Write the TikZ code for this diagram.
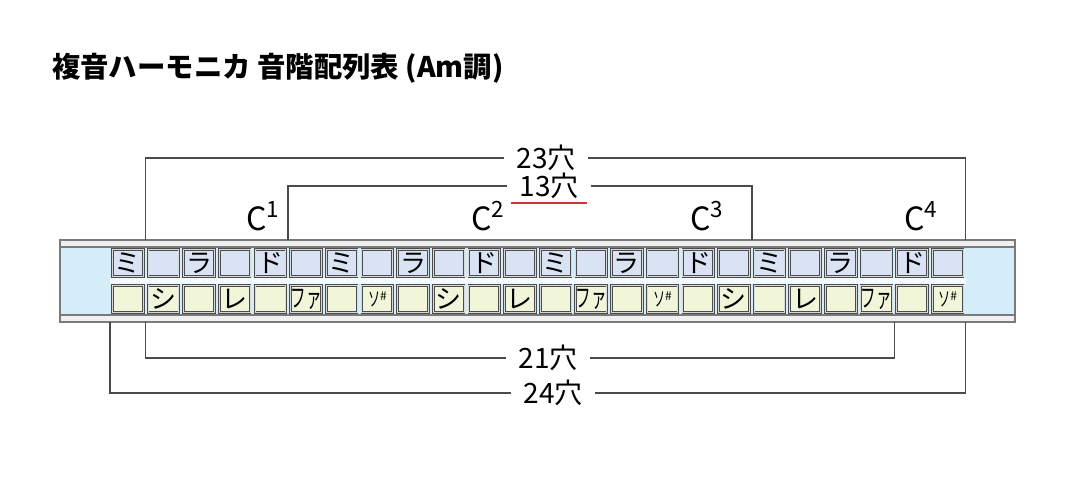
\documentclass[tikz,border=0pt]{standalone}
\usepackage{fontspec}
\setmainfont{Noto Sans CJK JP}
\usepackage{graphicx}
\usetikzlibrary{positioning}
\definecolor{bodyblue}{HTML}{D4EDF9}
\definecolor{topfill}{HTML}{D9E3F3}
\definecolor{botfill}{HTML}{F1F6DA}
\definecolor{rimgray}{HTML}{7A7A7A}
\definecolor{linegray}{HTML}{4A4A4A}
\definecolor{markred}{HTML}{C8383A}
\newcommand{\holefont}{\fontsize{13}{13}\selectfont}
\newcommand{\squeeze}[1]{\scalebox{0.6}[1]{#1}}
\newcommand{\sosharp}{{\fontsize{10}{10}\selectfont\squeeze{ソ}\raisebox{.5ex}{\fontsize{6}{6}\selectfont\#}}}

\tikzset{
  cell/.style={draw=black!70, double=white!85!black, double distance=0.5pt,
    minimum width=15.4pt, minimum height=13.6pt, inner sep=0pt, font=\holefont},
  topcell/.style={cell, fill=topfill},
  botcell/.style={cell, fill=botfill},
  rim/.style={draw=rimgray, fill=white!88!gray, line width=0.8pt},
  bracket/.style={draw=linegray, line width=0.8pt},
  holecount/.style={font=\fontsize{14}{14}\selectfont, inner sep=6pt},
  octave/.style={font=\fontsize{16}{16}\selectfont, inner sep=0pt},
}

\begin{document}
\begin{tikzpicture}[x=0.5pt,y=-0.5pt]
\useasboundingbox (0,0) rectangle (1068,500);
% title
\node[anchor=west, font=\fontsize{14.2}{14.2}\selectfont\bfseries] (title) at (45,68) {複音ハーモニカ 音階配列表 (Am調)};

% harmonica body
\fill[bodyblue] (61,246) rectangle (1015,316);
\fill[cyan!6] (110,278) rectangle (966,284);
\draw[white, dotted, line width=1pt] (110,281) -- (966,281);
\draw[rim] (60,240) rectangle (1015,247);
\draw[rim] (60,315) rectangle (1015,322);
\draw[rimgray, line width=0.8pt] (60,240) -- (60,322);
\draw[rimgray, line width=0.8pt] (1015,240) -- (1015,322);

% hole boundaries on the rims
\foreach \k in {0,...,24} {
  \coordinate (up\k) at ({110+35.65*\k},240);
  \coordinate (dn\k) at ({110+35.65*\k},322);
}

% holes
\foreach \n [count=\i from 0] in {ミ,{},ラ,{},ド,{},ミ,{},ラ,{},ド,{},ミ,{},ラ,{},ド,{},ミ,{},ラ,{},ド,{}}
  \node[topcell] (t\i) at ({127.8+35.65*\i},263) {\n};
\foreach \n [count=\i from 0] in {{},シ,{},レ,{},\squeeze{ファ},{},\sosharp,{},シ,{},レ,{},\squeeze{ファ},{},\sosharp,{},シ,{},レ,{},\squeeze{ファ},{},\sosharp}
  \node[botcell] (b\i) at ({127.8+35.65*\i},299) {\n};

% octave marks
\node[octave] (c1) at (263,216) {C\textsuperscript{1}};
\node[octave] (c2) at (488,216) {C\textsuperscript{2}};
\node[octave] (c3) at (707,216) {C\textsuperscript{3}};
\node[octave] (c4) at (921,216) {C\textsuperscript{4}};

% hole counts
\node[holecount] (n23) at (546,158) {23穴};
\draw[bracket] (up1) |- (n23.west);
\draw[bracket] (up24) |- (n23.east);

\node[holecount] (n13) at (549,186) {13穴};
\draw[bracket] (up5) |- (n13.west);
\draw[bracket] (up18) |- (n13.east);
\draw[markred, line width=0.9pt] ([xshift=2pt,yshift=-3pt]n13.base west) -- ([xshift=-2pt,yshift=-3pt]n13.base east);

\node[holecount] (n21) at (548,358) {21穴};
\draw[bracket] (dn1) |- (n21.west);
\draw[bracket] (dn22) |- (n21.east);

\node[holecount] (n24) at (553,393) {24穴};
\draw[bracket] (dn0) |- (n24.west);
\draw[bracket] (dn24) |- (n24.east);
\end{tikzpicture}
\end{document}
